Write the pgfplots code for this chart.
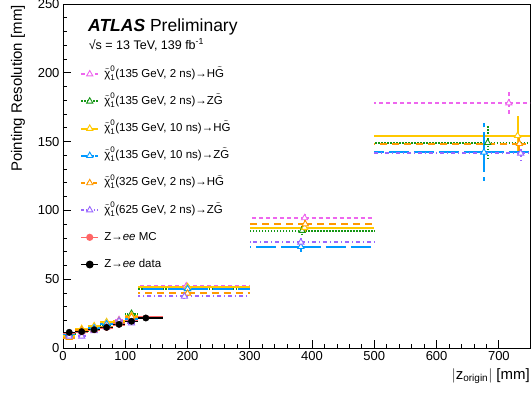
\documentclass[border=0pt]{standalone}
\usepackage{fontspec}
\setmainfont{Liberation Sans}
\usepackage{amsmath}
\usepackage{pgfplots}
\pgfplotsset{compat=1.18}
\definecolor{cpink}{RGB}{238,102,238}
\definecolor{cgreen}{RGB}{20,150,20}
\definecolor{cyellow}{RGB}{255,200,0}
\definecolor{cblue}{RGB}{0,153,255}
\definecolor{corange}{RGB}{255,153,0}
\definecolor{cpurple}{RGB}{153,102,255}
\definecolor{cred}{RGB}{255,102,102}
\tikzset{
  lpink/.style={cpink, line width=2pt, dash pattern=on 4pt off 3pt},
  lgreen/.style={cgreen, line width=2pt, dash pattern=on 1.5pt off 1.5pt},
  lyellow/.style={cyellow, line width=2pt, solid},
  lblue/.style={cblue, line width=2pt, dash pattern=on 20pt off 5pt},
  lorange/.style={corange, line width=2pt, dash pattern=on 7pt off 5pt},
  lpurple/.style={cpurple, line width=2pt, dash pattern=on 4pt off 3pt on 1pt off 3pt},
  lred/.style={cred, line width=2.5pt, solid},
  lblack/.style={black, line width=1.4pt, solid},
  tri/.style={mark=triangle*, mark size=3.6pt, mark options={solid, line width=0.9pt, fill=white}},
}
\newcommand{\chin}{$\tilde{\text{χ}}^{\text{0}}_{\text{1}}$}
\newcommand{\Gt}{$\tilde{\text{G}}$}
\pgfplotsset{
  sig/.style={only marks, forget plot, tri,
    error bars/.cd, x dir=both, x explicit, y dir=both, y explicit, error mark=none,
    error bar style={#1}},
}
\begin{document}
\begin{tikzpicture}
\useasboundingbox (-63pt,-44pt) rectangle (469pt,348pt);
\begin{axis}[
  width=467pt, height=344pt, scale only axis,
  xmin=0, xmax=750, ymin=0, ymax=250,
  xtick={0,100,...,700}, ytick={0,50,...,250},
  minor x tick num=4, minor y tick num=4,
  xtick pos=bottom, ytick pos=left, tick align=inside,
  major tick length=8pt, minor tick length=4.5pt,
  axis line style={line width=0.9pt},
  every tick/.style={black, line width=0.8pt},
  /pgf/number format/assume math mode=true,
  tick label style={font=\fontsize{13}{15}\selectfont},
  xlabel={$|$z$_{\text{\fontsize{10}{11}\selectfont origin}}|$ [mm]},
  xlabel style={font=\fontsize{15}{17}\selectfont, at={(axis description cs:1,0)}, anchor=north east, yshift=-20pt, inner sep=0pt},
  ylabel={Pointing Resolution [mm]},
  ylabel style={font=\fontsize{15}{17}\selectfont, at={(axis description cs:-0.081,0.997)}, anchor=south east, inner sep=0pt},
  legend style={draw=none, fill=none, at={(axis description cs:0.03,0.82)}, anchor=north west,
    font=\fontsize{11.5}{13}\selectfont, row sep=15.2pt,
    nodes={inner sep=0pt, text height=9pt, text depth=3pt},
    /tikz/every odd column/.append style={column sep=5pt}},
  legend cell align=left,
]
% pink H135 2ns
\addplot[cpink, sig={lpink}] coordinates {
 (10,10.5) +- (10,0.8) (30,11.5) +- (10,0.8) (50,14) +- (10,0.8) (70,16.5) +- (10,0.8) (90,20.5) +- (10,1) (110,21.5) +- (10,1)
 (198,45) += (102,2) -= (78,2) (388,94.5) += (112,4) -= (88,4) (716,178) += (34,10) -= (216,10) };
% green Z135 2ns
\addplot[cgreen, sig={lgreen}] coordinates {
 (10,10.5) +- (10,0.8) (30,12.5) +- (10,0.8) (50,14.5) +- (10,0.8) (70,17) +- (10,0.8) (90,19.5) +- (10,1) (110,25) +- (10,1.5)
 (200,43) += (100,2) -= (80,2) (384,85.3) += (116,4) -= (84,4) (682,149.2) += (68,13) -= (182,13) };
% yellow H135 10ns
\addplot[cyellow, sig={lyellow}] coordinates {
 (10,8.5) +- (10,0.8) (30,14) +- (10,0.8) (50,16) +- (10,0.8) (70,19) +- (10,1) (90,19.5) +- (10,1) (110,23.5) +- (10,1.2)
 (200,44.5) += (100,2) -= (80,2) (388,87.5) += (112,4) -= (88,4) (730,154.3) += (20,14) -= (230,12) };
% blue Z135 10ns
\addplot[cblue, sig={lblue}] coordinates {
 (10,10) +- (10,0.8) (30,12.5) +- (10,0.8) (50,14.5) +- (10,0.8) (70,17.5) +- (10,0.8) (90,18) +- (10,1) (110,21) +- (10,1)
 (200,43) += (100,2) -= (80,2) (382,73.6) += (118,4) -= (82,4) (676,142.2) += (74,21) -= (176,21) };
% orange H325 2ns
\addplot[corange, sig={lorange}] coordinates {
 (10,7.5) +- (10,0.8) (30,13) +- (10,0.8) (50,13) +- (10,0.8) (70,15.5) +- (10,0.8) (90,18) +- (10,1) (110,22.5) +- (10,1)
 (200,39.7) += (100,2) -= (80,2) (389,90.1) += (111,5) -= (89,5) (733,148.5) += (17,8) -= (233,8) };
% purple Z625 2ns
\addplot[cpurple, sig={lpurple}] coordinates {
 (10,8.5) +- (10,0.8) (30,8.5) +- (10,0.8) (50,12.5) +- (10,0.8) (70,15) +- (10,0.8) (90,19.5) +- (10,1) (110,18) +- (10,1)
 (195,37.5) += (105,2) -= (75,2) (382,76.8) += (118,5) -= (82,5) (735,141.5) += (15,7) -= (235,7) };
% Z->ee MC
\addplot[cred, only marks, forget plot, mark=*, mark size=2.8pt,
  error bars/.cd, x dir=both, x explicit, y dir=both, y explicit, error mark=none, error bar style={lred}]
 coordinates {
 (10,11.0) +- (10,0.4) (30,11.6) +- (10,0.4) (50,13.0) +- (10,0.4) (70,14.6) +- (10,0.4) (90,17.0) +- (10,0.4) (110,19.6) +- (10,0.4)
 (133,22.0) += (27,0.5) -= (13,0.5) };
% Z->ee data
\addplot[black, only marks, forget plot, mark=*, mark size=3.2pt,
  error bars/.cd, x dir=both, x explicit, y dir=both, y explicit, error mark=none, error bar style={lblack}]
 coordinates {
 (10,11.4) +- (10,0.3) (30,11.9) +- (10,0.3) (50,13.3) +- (10,0.3) (70,15.0) +- (10,0.3) (90,17.2) +- (10,0.3) (110,19.4) +- (10,0.3)
 (133,21.8) += (27,0.3) -= (13,0.3) };
\addlegendimage{lpink, tri}
\addlegendentry{\chin(135 GeV, 2 ns)→H\Gt}
\addlegendimage{lgreen, tri}
\addlegendentry{\chin(135 GeV, 2 ns)→Z\Gt}
\addlegendimage{lyellow, tri}
\addlegendentry{\chin(135 GeV, 10 ns)→H\Gt}
\addlegendimage{lblue, dash pattern=on 6pt off 1pt, tri}
\addlegendentry{\chin(135 GeV, 10 ns)→Z\Gt}
\addlegendimage{lorange, dash pattern=on 4pt off 2pt, tri}
\addlegendentry{\chin(325 GeV, 2 ns)→H\Gt}
\addlegendimage{lpurple, dash pattern=on 3pt off 2pt on 1pt off 2pt, tri}
\addlegendentry{\chin(625 GeV, 2 ns)→Z\Gt}
\addlegendimage{lred, line width=1.5pt, mark=*, mark size=2.8pt}
\addlegendentry{Z→\textit{ee} MC}
\addlegendimage{lblack, mark=*, mark size=3.2pt}
\addlegendentry{Z→\textit{ee} data}
\node[anchor=base west, inner sep=0pt, font=\fontsize{17.5}{20}\selectfont] at (axis description cs:0.0535,0.9215) {\textbf{\textit{ATLAS}} Preliminary};
\node[anchor=base west, inner sep=0pt, font=\fontsize{12.5}{14}\selectfont] at (axis description cs:0.055,0.869) {√s = 13 TeV, 139 fb\textsuperscript{-1}};
\end{axis}
\end{tikzpicture}
\end{document}
